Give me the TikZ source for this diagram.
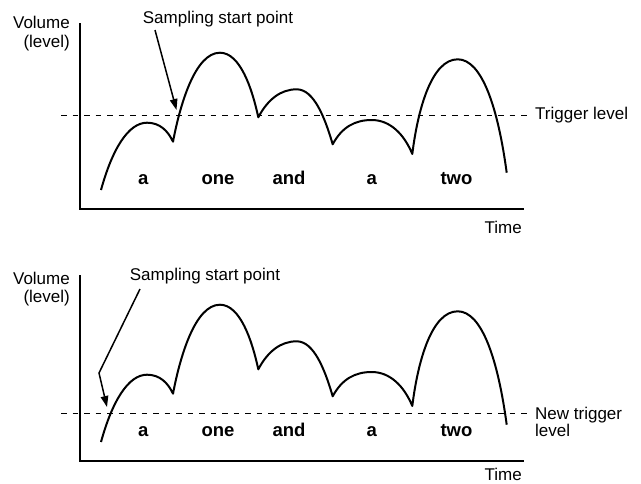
\documentclass[tikz,border=0pt]{standalone}
\usepackage{fontspec}
\setmainfont{Liberation Sans}
\usetikzlibrary{arrows.meta}
\begin{document}
\begin{tikzpicture}[x=1pt,y=-1pt,
  curve/.style={line width=2pt, line join=round},
  axis/.style={line width=1.3pt},
  trig/.style={line width=0.9pt, dash pattern=on 5.5pt off 6pt},
  ptr/.style={line width=1.5pt, line join=miter, -{Triangle[length=11pt,width=7.5pt]}},
  lbl/.style={font=\fontsize{17}{18.5}\selectfont, inner sep=0pt},
  word/.style={font=\fontsize{18.5}{20}\selectfont\bfseries, inner sep=0pt, anchor=base},
  pics/wave/.style={code={
    \draw[curve] (101,190) .. controls (112,150) and (128,122.7) .. (147,122.7)
      .. controls (160,122.7) and (168,131) .. (173,141.7)
      .. controls (180,105) and (195,52.7) .. (220,52.7)
      .. controls (240,52.7) and (252,88) .. (258.3,117.3)
      .. controls (268,99) and (281,89.3) .. (296.7,89.3)
      .. controls (314,89.3) and (325,118) .. (332.7,144.3)
      .. controls (342,127) and (355,120) .. (371.7,120)
      .. controls (390,120) and (404,134) .. (412.3,154)
      .. controls (418,108) and (432,59.3) .. (457.7,59.3)
      .. controls (482,59.3) and (498,108) .. (506.7,172.7);
    \draw[axis] (80,23) -- (80,209) -- (524,209);
    \node[word] (wa) at (143.3,184) {a};
    \node[word] (wone) at (218,184) {one};
    \node[word] (wand) at (289,184) {and};
    \node[word] (wa2) at (371.7,184) {a};
    \node[word] (wtwo) at (456.5,184) {two};
  }}]
\path[use as bounding box] (0,0) rectangle (641,483);

% ---------- top panel ----------
\pic (top) at (0,0) {wave};
\node[lbl, anchor=north east, align=right] (vol1) at (70,16) {Volume\\(level)};
\node[lbl, anchor=base] (ssp1) at (218,23.3) {Sampling start point};
\draw[trig] (61,115) -- (527,115);
\node[lbl, anchor=base west] (trig1) at (535,119.5) {Trigger level};
\node[lbl, anchor=base east] (time1) at (522,233.3) {Time};
\coordinate (s1) at (155,30);
\coordinate (t1) at (176.5,110);
\draw[ptr] (s1) -- (t1);

% ---------- bottom panel ----------
\pic (bot) at (0,252) {wave};
\node[lbl, anchor=north east, align=right] (vol2) at (70,271.5) {Volume\\(level)};
\node[lbl, anchor=base] (ssp2) at (205,280.7) {Sampling start point};
\draw[trig] (61,413.3) -- (527,413.3);
\node[lbl, anchor=north west, align=left, font=\fontsize{17}{17}\selectfont] (trig2) at (535,406.7) {New trigger\\level};
\node[lbl, anchor=base east] (time2) at (522,480.3) {Time};
\coordinate (s2) at (140,289);
\coordinate (b2) at (99,373);
\coordinate (t2) at (107,407);
\draw[ptr] (s2) -- (b2) -- (t2);
\end{tikzpicture}
\end{document}
